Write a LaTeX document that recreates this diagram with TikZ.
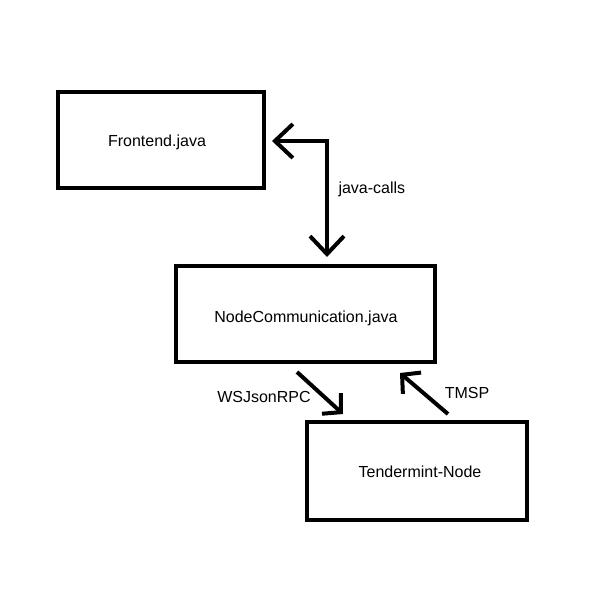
\documentclass[tikz,border=0pt]{standalone}
\usepackage{fontspec}
\setmainfont{Liberation Sans}
\usetikzlibrary{arrows.meta}
\begin{document}
\begin{tikzpicture}[x=1pt,y=-1pt,
  lbl/.style={font=\fontsize{16}{18}\selectfont},
  conn/.style={line width=4pt,-{Straight Barb[length=13pt,width=28pt,line width=4pt]}},
  conn2/.style={line width=4pt,{Straight Barb[length=18pt,width=34pt,line width=4pt]}-{Straight Barb[length=18pt,width=34pt,line width=4pt]}}]
\useasboundingbox (0,0) rectangle (600,600);
\draw[line width=4pt] (58,92) rectangle (264,188);
\node[lbl] (fe) at (157,142) {Frontend.java};
\draw[line width=4pt] (176,266) rectangle (435,362);
\node[lbl] (nc) at (306,318) {NodeCommunication.java};
\draw[line width=4pt] (307,422) rectangle (527,520);
\node[lbl] (tn) at (420,472) {Tendermint-Node};
\coordinate (a1) at (272,141);
\coordinate (a2) at (327,141);
\coordinate (a3) at (327,257);
\draw[conn2] (a1) -- (a2) -- (a3);
\node[lbl,anchor=west] (jc) at (335,189) {java-calls};
\coordinate (w1) at (297,372);
\coordinate (w2) at (343,414);
\draw[conn] (w1) -- (w2);
\node[lbl] (ws) at (264,397) {WSJsonRPC};
\coordinate (t1) at (448,414);
\coordinate (t2) at (400,373);
\draw[conn] (t1) -- (t2);
\node[lbl] (tm) at (467,393) {TMSP};
\end{tikzpicture}
\end{document}
